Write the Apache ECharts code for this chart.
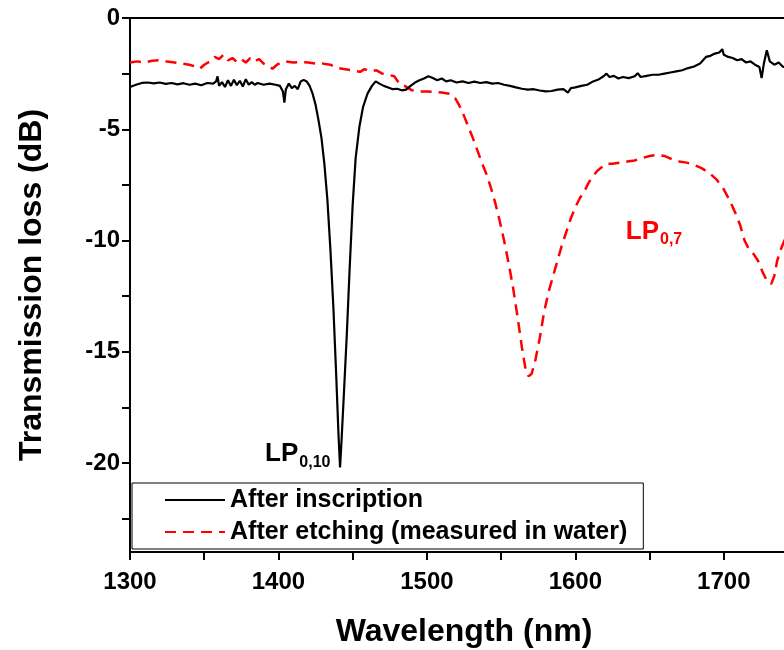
<!DOCTYPE html>
<html>
<head>
<meta charset="utf-8">
<script src="https://cdn.jsdelivr.net/npm/echarts@6/dist/echarts.min.js"></script>
<style>html,body{margin:0;padding:0;background:#fff}#c{width:784px;height:650px}</style>
</head>
<body>
<div id="c"></div>
<script>
// ---- data ----
const seriesNames = ['After inscription', 'After etching (measured in water)'];
const xTickValues = [1300,1350,1400,1450,1500,1550,1600,1650,1700,1750];
const xLabelValues = [1300,1400,1500,1600,1700];
const yTickValues = [-22.5,-20,-17.5,-15,-12.5,-10,-7.5,-5,-2.5,0];
const yLabelValues = [-20,-15,-10,-5,0];

const inscriptionWl = [1300,1304,1308,1312,1316,1320,1324,1328,1332,1336,1340,1344,1348,1352,1356,1358,1359,1360,1362,1364,1366,1368,1370,1372,1374,1376,1378,1380,1382,1384,1386,1390,1394,1398,1401,1403,1404,1405,1407,1409,1411,1413,1415,1417,1419,1421,1423,1425,1427,1429,1431,1433,1435,1437,1439,1440.5,1441.5,1442.5,1444,1446,1448,1450,1452,1454.5,1457,1460,1463,1465.5,1468,1471,1474,1477,1480,1483,1486,1489,1492,1495,1498,1501,1504,1507,1510,1513,1516,1520,1524,1528,1532,1536,1540,1544,1548,1552,1556,1560,1564,1568,1572,1576,1580,1584,1588,1592,1595,1597,1600,1604,1608,1612,1616,1619,1621,1623,1626,1629,1632,1636,1640,1642,1644,1648,1652,1656,1660,1664,1668,1672,1676,1680,1684,1686,1688,1691,1694,1697,1699,1700,1703,1706,1709,1712,1715,1718,1721,1724,1725.5,1727,1729,1731,1734,1737,1740,1744,1748];
const inscriptionLoss = [-3.10,-3.00,-2.92,-2.90,-2.94,-2.90,-2.96,-2.92,-2.98,-2.93,-3.00,-2.95,-3.02,-2.92,-2.95,-2.85,-2.62,-3.05,-2.88,-3.10,-2.80,-3.05,-2.78,-3.02,-2.82,-3.08,-2.75,-3.00,-2.88,-3.00,-2.92,-3.00,-2.95,-3.00,-3.05,-3.30,-3.80,-3.20,-2.95,-3.15,-3.05,-3.20,-2.85,-2.78,-2.85,-3.05,-3.40,-3.90,-4.60,-5.40,-6.60,-8.20,-10.40,-13.00,-16.20,-18.80,-20.20,-19.00,-17.00,-14.30,-11.20,-8.40,-6.30,-4.90,-4.00,-3.40,-3.05,-2.85,-2.95,-3.05,-3.12,-3.20,-3.18,-3.25,-3.22,-3.05,-2.90,-2.80,-2.72,-2.62,-2.70,-2.80,-2.72,-2.85,-2.80,-2.90,-2.85,-2.92,-2.86,-2.92,-2.88,-2.95,-2.92,-3.00,-3.05,-3.12,-3.18,-3.22,-3.20,-3.26,-3.30,-3.28,-3.22,-3.20,-3.35,-3.15,-3.12,-3.05,-3.00,-2.85,-2.75,-2.62,-2.50,-2.65,-2.60,-2.72,-2.65,-2.70,-2.62,-2.48,-2.65,-2.60,-2.55,-2.55,-2.50,-2.45,-2.40,-2.35,-2.25,-2.18,-2.05,-1.90,-1.75,-1.70,-1.60,-1.55,-1.40,-1.65,-1.75,-1.80,-1.90,-1.85,-2.00,-1.95,-2.10,-2.20,-2.70,-2.05,-1.45,-1.95,-2.10,-2.00,-2.20,-2.15,-2.25];

const etchingWl = [1300,1305,1310,1315,1320,1325,1330,1335,1340,1345,1347,1350,1354,1357,1360,1363,1366,1369,1372,1375,1378,1381,1384,1387,1390,1393,1396,1399,1402,1405,1410,1415,1420,1425,1430,1435,1440,1445,1450,1455,1458,1462,1466,1470,1474,1478,1482,1485,1490,1495,1500,1505,1510,1515,1519,1522,1525,1528,1531,1534,1537,1540,1543,1546,1549,1552,1555,1558,1561,1564,1566.5,1568.5,1570.5,1573,1576,1579,1582,1585,1588,1591,1594,1597,1600,1603,1606,1609,1612,1615,1618,1621,1625,1630,1635,1640,1645,1650,1655,1660,1665,1670,1675,1680,1685,1690,1695,1700,1704,1708,1711,1714,1717,1720,1723,1726,1729,1732,1734,1736,1739,1742,1746,1750];
const etchingLoss = [-2.00,-1.95,-2.00,-1.92,-1.90,-1.96,-2.00,-2.05,-2.10,-2.20,-2.28,-2.10,-1.95,-1.75,-1.85,-1.65,-1.90,-1.80,-1.98,-1.85,-2.00,-1.80,-1.95,-1.85,-2.05,-2.15,-2.28,-2.10,-2.00,-1.95,-2.00,-1.98,-2.00,-2.05,-2.05,-2.10,-2.25,-2.30,-2.35,-2.42,-2.30,-2.40,-2.35,-2.50,-2.55,-2.62,-3.00,-3.05,-3.25,-3.30,-3.30,-3.32,-3.35,-3.40,-3.60,-3.95,-4.40,-4.90,-5.40,-5.95,-6.50,-7.00,-7.60,-8.30,-9.10,-10.00,-11.00,-12.10,-13.40,-14.80,-15.80,-16.10,-16.00,-15.40,-14.40,-13.20,-12.30,-11.60,-10.90,-10.20,-9.60,-9.00,-8.50,-8.10,-7.80,-7.40,-7.10,-6.85,-6.70,-6.55,-6.55,-6.50,-6.45,-6.40,-6.30,-6.20,-6.15,-6.20,-6.35,-6.45,-6.50,-6.60,-6.75,-6.95,-7.25,-7.70,-8.20,-8.80,-9.30,-10.00,-10.40,-10.60,-10.90,-11.40,-11.80,-11.95,-11.60,-10.90,-10.30,-9.80,-9.40,-9.20];

const annotations = [
  {wl: 1391, loss: -19.6, main: 'LP', sub: '0,10', color: '#000000'},
  {wl: 1634, loss: -9.6, main: 'LP', sub: '0,7', color: '#ff0000'}
];

// ---- chart ----
const FONT = 'Liberation Sans';
const zip = (a, b) => a.map((v, i) => [v, b[i]]);
const chart = echarts.init(document.getElementById('c'), null, {renderer: 'canvas'});

const option = {
  animation: false,
  backgroundColor: '#fff',
  grid: {left: 130, top: 18, width: 668, height: 534, outerBoundsMode: 'none', containLabel: false,
         show: true, borderColor: '#000', borderWidth: 2, backgroundColor: 'transparent'},
  xAxis: {
    type: 'value', min: 1300, max: 1750,
    name: 'Wavelength (nm)', nameLocation: 'middle', nameGap: 64,
    nameTextStyle: {fontFamily: FONT, fontWeight: 'bold', fontSize: 32, color: '#000'},
    axisLine: {onZero: false, lineStyle: {color: '#000', width: 2}},
    axisTick: {show: true, inside: false, length: 8, lineStyle: {color: '#000', width: 2}, customValues: xTickValues},
    axisLabel: {fontFamily: FONT, fontWeight: 'bold', fontSize: 24, color: '#000', margin: 18,
                customValues: xLabelValues, formatter: v => String(v)},
    splitLine: {show: false}
  },
  yAxis: {
    type: 'value', min: -24, max: 0,
    name: 'Transmission loss (dB)', nameLocation: 'middle', nameGap: 82,
    nameTextStyle: {fontFamily: FONT, fontWeight: 'bold', fontSize: 32, color: '#000'},
    axisLine: {onZero: false, lineStyle: {color: '#000', width: 2}},
    axisTick: {show: true, inside: false, length: 8, lineStyle: {color: '#000', width: 2}, customValues: yTickValues},
    axisLabel: {fontFamily: FONT, fontWeight: 'bold', fontSize: 24, color: '#000', margin: 10,
                customValues: yLabelValues, formatter: v => String(v)},
    splitLine: {show: false}
  },
  legend: {
    orient: 'vertical', left: 132, top: 483,
    padding: [3, 16, 3, 32], itemWidth: 60, itemHeight: 14, itemGap: 4,
    borderColor: '#000', borderWidth: 1, backgroundColor: '#fff',
    itemStyle: {opacity: 0},
    textStyle: {fontFamily: FONT, fontWeight: 'bold', fontSize: 25, color: '#000', lineHeight: 28},
    data: seriesNames
  },
  series: [
    {
      name: seriesNames[0], type: 'line', symbol: 'none', showSymbol: false,
      data: zip(inscriptionWl, inscriptionLoss),
      lineStyle: {color: '#000', width: 2.2}, itemStyle: {color: '#000'}, z: 3
    },
    {
      name: seriesNames[1], type: 'line', symbol: 'none', showSymbol: false,
      data: zip(etchingWl, etchingLoss),
      lineStyle: {color: '#ff0000', width: 2.5, type: [11, 7]}, itemStyle: {color: '#ff0000'}, z: 2
    },
    {
      name: 'labels', type: 'scatter', symbolSize: 0, silent: true,
      itemStyle: {opacity: 1},
      data: annotations.map(a => ({
        value: [a.wl, a.loss],
        itemStyle: {opacity: 1, color: a.color},
        label: {
          show: true, position: 'right', distance: 0, opacity: 1, color: a.color,
          formatter: '{m|' + a.main + '}{s|' + a.sub + '}',
          rich: {
            m: {fontFamily: FONT, fontWeight: 'bold', fontSize: 26, color: a.color},
            s: {fontFamily: FONT, fontWeight: 'bold', fontSize: 16, color: a.color, padding: [16, 0, 0, 1]}
          }
        }
      }))
    }
  ]
};
chart.setOption(option);
</script>
</body>
</html>
